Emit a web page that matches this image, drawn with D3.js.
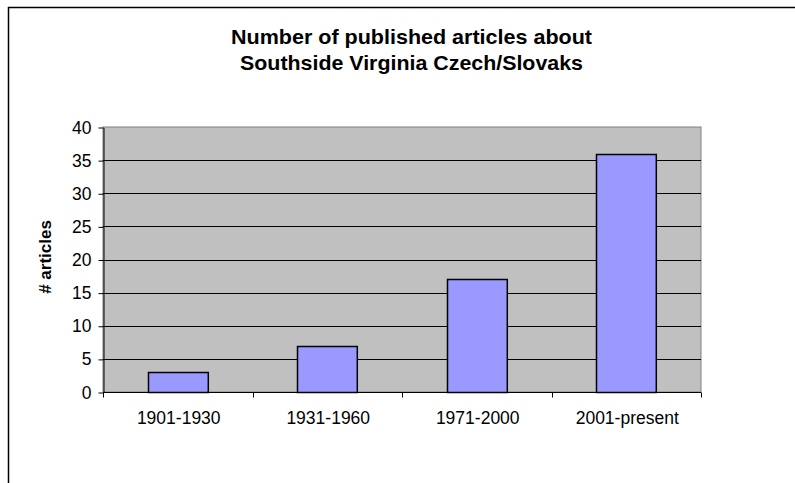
<!DOCTYPE html>
<html>
<head>
<meta charset="utf-8">
<script src="https://cdn.jsdelivr.net/npm/d3@7"></script>
<style>
  body { margin: 0; background: #fff; }
  text { font-family: Arial, "Liberation Sans", sans-serif; }
</style>
</head>
<body>
<div id="chart"></div>
<script>
// data //
const categories = ['1901-1930', '1931-1960', '1971-2000', '2001-present']
const articles = [3, 7, 17, 36]
const yTicks = [0, 5, 10, 15, 20, 25, 30, 35, 40]
const titleLines = ['Number of published articles about', 'Southside Virginia Czech/Slovaks']
const titleWidths = [361, 343]
const yLabel = '# articles'

// svg //
const width = 795
const height = 483
const plot = { left: 103, top: 127, right: 701, bottom: 392 }
const labelSize = '17.5px'

const svg = d3.select('#chart').append('svg')
  .attr('width', width)
  .attr('height', height)

// outer frame, runs off the right and bottom edges
svg.append('rect')
  .attr('x', 8.5).attr('y', 7.5)
  .attr('width', 820).attr('height', 520)
  .attr('fill', '#fff')
  .attr('stroke', '#000')
  .attr('stroke-width', 1.5)

const x = d3.scaleBand()
  .domain(categories)
  .range([plot.left, plot.right])
  .paddingInner(0.6)
  .paddingOuter(0.3)

const y = d3.scaleLinear()
  .domain([0, 40])
  .range([plot.bottom, plot.top])

// plot area
svg.append('rect')
  .attr('x', plot.left).attr('y', plot.top)
  .attr('width', plot.right - plot.left)
  .attr('height', plot.bottom - plot.top)
  .attr('fill', '#c0c0c0')
  .attr('stroke', '#808080')

// gridlines
svg.append('g')
  .selectAll('line')
  .data(yTicks.filter(t => t > 0 && t < 40))
  .enter()
  .append('line')
  .attr('x1', plot.left).attr('x2', plot.right)
  .attr('y1', d => Math.round(y(d)) + 0.5)
  .attr('y2', d => Math.round(y(d)) + 0.5)
  .attr('stroke', '#000')

// bars
svg.append('g')
  .selectAll('rect')
  .data(articles)
  .enter()
  .append('rect')
  .attr('x', (d, i) => Math.round(x(categories[i])) + 0.5)
  .attr('y', d => Math.round(y(d)) + 0.5)
  .attr('width', x.bandwidth())
  .attr('height', d => Math.round(y(0)) - Math.round(y(d)))
  .attr('fill', '#9999ff')
  .attr('stroke', '#000')
  .attr('stroke-width', 1.5)

// y axis
const yAxis = svg.append('g')
  .attr('transform', `translate(${plot.left + 0.5}, 0.5)`)
  .call(d3.axisLeft(y).tickValues(yTicks).tickSize(5).tickSizeOuter(0).tickPadding(7))
yAxis.select('.domain').attr('stroke', '#000')
yAxis.selectAll('text')
  .style('font-family', 'Arial, "Liberation Sans", sans-serif')
  .style('font-size', labelSize)
  .attr('fill', '#000')

// x axis, ticks between categories
const bandStep = (plot.right - plot.left) / categories.length
const xAxis = svg.append('g')
  .attr('transform', `translate(0, ${plot.bottom + 0.5})`)
xAxis.append('line')
  .attr('x1', plot.left).attr('x2', plot.right)
  .attr('stroke', '#000')
xAxis.selectAll('line.tick')
  .data(d3.range(categories.length + 1))
  .enter()
  .append('line')
  .attr('class', 'tick')
  .attr('x1', i => Math.round(plot.left + i * bandStep) + 0.5)
  .attr('x2', i => Math.round(plot.left + i * bandStep) + 0.5)
  .attr('y1', 0).attr('y2', 5)
  .attr('stroke', '#000')
xAxis.selectAll('text')
  .data(categories)
  .enter()
  .append('text')
  .attr('x', d => x(d) + x.bandwidth() / 2 + 1)
  .attr('y', 31)
  .attr('text-anchor', 'middle')
  .style('font-size', labelSize)
  .text(d => d)

// y label
svg.append('text')
  .attr('transform', `translate(51, 257) rotate(-90)`)
  .attr('text-anchor', 'middle')
  .style('font-size', '17px')
  .style('font-weight', 'bold')
  .text(yLabel)

// title
svg.append('g')
  .selectAll('text')
  .data(titleLines)
  .enter()
  .append('text')
  .attr('x', (d, i) => 411.5 - titleWidths[i] / 2)
  .attr('y', (d, i) => 44 + i * 26)
  .attr('textLength', (d, i) => titleWidths[i])
  .attr('lengthAdjust', 'spacingAndGlyphs')
  .style('font-size', '20.5px')
  .style('font-weight', 'bold')
  .text(d => d)
</script>
</body>
</html>
